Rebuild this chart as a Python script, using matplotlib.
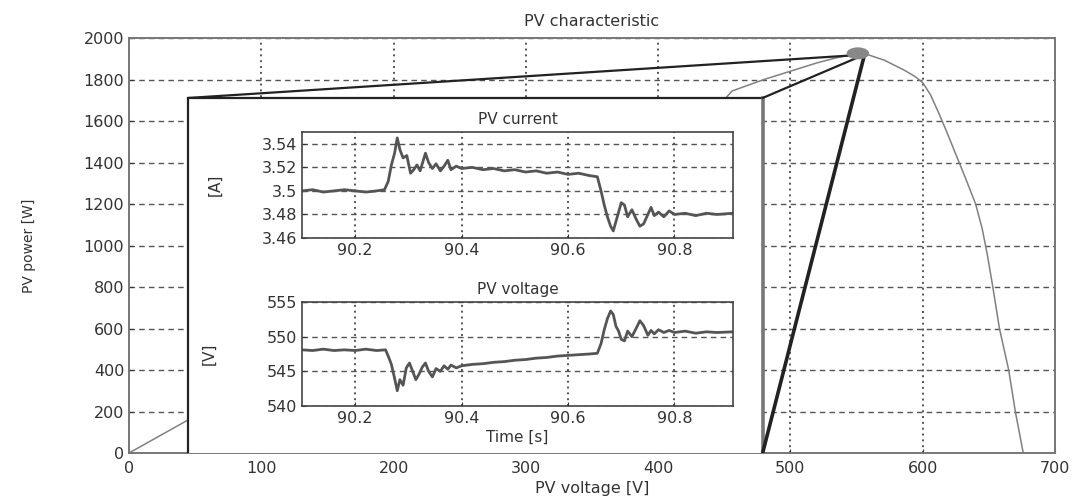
import numpy as np
import matplotlib
matplotlib.use("Agg")
import matplotlib.pyplot as plt
from matplotlib.patches import Rectangle, Ellipse

plt.rcParams['font.family'] = ['DejaVu Sans']

# PV characteristic (voltage [V], power [W])
pv_v = [0, 44.6, 150, 250, 350, 420, 456, 480, 500, 520, 535, 548, 556, 571, 586, 594,
        600, 606, 612, 618, 625, 632, 640, 645, 649, 653, 658, 665, 670, 676]
pv_p = [0, 159, 540, 895, 1245, 1495, 1745, 1800, 1840, 1880, 1905, 1922, 1925, 1893, 1845, 1815,
        1785, 1725, 1640, 1550, 1440, 1330, 1200, 1080, 950, 800, 600, 400, 200, 0]

# operating point marker and apex of the zoom lines
mpp_v, mpp_p = 551, 1926
apex_v, apex_p = 556, 1920

# zoom box (V, W)
box_v0, box_v1 = 44.6, 479
box_ptop = 1711

# PV current transient
t_i = [90.10, 90.12, 90.14, 90.16, 90.18, 90.20, 90.22, 90.24, 90.255, 90.262, 90.268,
       90.274, 90.279, 90.284, 90.29, 90.297, 90.304, 90.31, 90.316, 90.322, 90.328, 90.332,
       90.338, 90.345, 90.352, 90.36, 90.367, 90.374, 90.38, 90.39, 90.40, 90.42, 90.44,
       90.46, 90.48, 90.50, 90.52, 90.54, 90.56, 90.58, 90.60, 90.62, 90.64, 90.655, 90.662,
       90.668, 90.674, 90.68, 90.685, 90.69, 90.695, 90.70, 90.706, 90.712, 90.72, 90.728,
       90.735, 90.742, 90.75, 90.756, 90.762, 90.77, 90.78, 90.79, 90.80, 90.82, 90.84,
       90.86, 90.88, 90.91]
i_pv = [3.500, 3.501, 3.499, 3.500, 3.501, 3.500, 3.499, 3.500, 3.501, 3.508, 3.522,
        3.532, 3.545, 3.535, 3.528, 3.530, 3.515, 3.518, 3.522, 3.517, 3.526, 3.532,
        3.524, 3.519, 3.523, 3.517, 3.521, 3.526, 3.518, 3.521, 3.519, 3.520, 3.518,
        3.519, 3.517, 3.518, 3.516, 3.517, 3.515, 3.516, 3.514, 3.515, 3.513, 3.512, 3.500,
        3.488, 3.478, 3.470, 3.466, 3.474, 3.482, 3.490, 3.488, 3.478, 3.484, 3.476,
        3.470, 3.472, 3.480, 3.486, 3.479, 3.482, 3.478, 3.483, 3.480, 3.481, 3.479,
        3.481, 3.480, 3.481]

# PV voltage transient
t_u = [90.10, 90.12, 90.14, 90.16, 90.18, 90.20, 90.22, 90.24, 90.257, 90.262, 90.268,
       90.274, 90.279, 90.284, 90.29, 90.296, 90.302, 90.308, 90.314, 90.32, 90.326, 90.332,
       90.338, 90.345, 90.352, 90.36, 90.367, 90.374, 90.38, 90.39, 90.40, 90.42, 90.44,
       90.46, 90.48, 90.50, 90.52, 90.54, 90.56, 90.58, 90.60, 90.62, 90.64, 90.655, 90.662,
       90.668, 90.674, 90.68, 90.685, 90.69, 90.695, 90.70, 90.706, 90.712, 90.72, 90.728,
       90.735, 90.742, 90.75, 90.756, 90.762, 90.77, 90.78, 90.79, 90.80, 90.82, 90.84,
       90.86, 90.88, 90.91]
u_pv = [548.1, 548.0, 548.2, 548.0, 548.1, 548.0, 548.2, 548.0, 548.1, 547.2, 546.0,
        544.0, 542.2, 543.8, 543.0, 545.5, 546.2, 545.0, 543.8, 544.6, 545.6, 546.2,
        545.0, 544.2, 545.4, 545.0, 545.8, 545.3, 545.9, 545.5, 545.8, 546.0, 546.1,
        546.3, 546.4, 546.6, 546.7, 546.9, 547.0, 547.2, 547.3, 547.4, 547.5, 547.6, 549.0,
        551.0, 552.6, 553.7, 553.2, 551.5, 550.8, 549.6, 549.4, 550.8, 550.0, 551.2,
        552.3, 551.6, 550.2, 550.9, 550.4, 551.0, 550.6, 550.9, 550.6, 550.8, 550.5,
        550.7, 550.6, 550.7]

text_col = '#333333'
grid_col = '#555555'

fig = plt.figure(figsize=(10.78, 5.0), dpi=100)

ax = fig.add_axes([129 / 1078, 1 - 453 / 500, 926 / 1078, 415 / 500])
ax.set_xlim(0, 700)
ax.set_ylim(0, 2000)
ax.set_xticks(np.arange(0, 701, 100))
ax.set_yticks(np.arange(0, 2001, 200))
ax.tick_params(direction='in', length=3, labelsize=11.5, colors=text_col)
ax.tick_params(axis='x', pad=6)
for s in ax.spines.values():
    s.set_color('#777777')
    s.set_linewidth(1.4)
ax.yaxis.grid(True, linestyle=(0, (4, 3)), color=grid_col, linewidth=1.0, zorder=0)
ax.xaxis.grid(True, linestyle=(0, (1, 2)), color=grid_col, linewidth=1.4, zorder=0)
ax.set_axisbelow(True)
ax.set_title('PV characteristic', fontsize=11.5, color=text_col, pad=9)
ax.set_xlabel('PV voltage [V]', fontsize=11.5, color=text_col, labelpad=3)
ax.set_ylabel('PV power [W]', fontsize=10, color=text_col, labelpad=34)

ax.plot(pv_v, pv_p, color='#808080', linewidth=1.1, zorder=2)

# zoom box
ax.add_patch(Rectangle((box_v0, 0), box_v1 - box_v0, box_ptop, facecolor='white',
                       edgecolor='none', zorder=3))
ax.plot([box_v0, box_v0, box_v1], [0, box_ptop, box_ptop], color='#222222', linewidth=1.6,
        zorder=4)
ax.plot([box_v1, box_v1], [0, box_ptop], color='#777777', linewidth=2.6, zorder=4)

ax.plot([apex_v, box_v0], [apex_p, box_ptop], color='#222222', linewidth=1.6, zorder=5)
ax.plot([apex_v, box_v1], [apex_p, box_ptop], color='#222222', linewidth=1.6, zorder=5)
ax.plot([apex_v, box_v1], [apex_p, 0], color='#222222', linewidth=2.6, zorder=5)
ax.add_patch(Ellipse((mpp_v, mpp_p), 17, 58, facecolor='#888888', edgecolor='none', zorder=6))


def style_inset(a):
    a.set_xlim(90.1, 90.91)
    a.set_xticks([90.2, 90.4, 90.6, 90.8])
    a.tick_params(direction='in', length=3, labelsize=11.5, colors=text_col)
    for s in a.spines.values():
        s.set_color('#444444')
        s.set_linewidth(1.2)
    a.yaxis.grid(True, linestyle=(0, (4, 3)), color=grid_col, linewidth=1.0)
    a.xaxis.grid(True, linestyle=(0, (1, 2)), color=grid_col, linewidth=1.4)
    a.set_axisbelow(True)


ax1 = fig.add_axes([302 / 1078, 1 - 238 / 500, 431 / 1078, 106 / 500])
style_inset(ax1)
ax1.plot(t_i, i_pv, color='#555555', linewidth=2.0)
ax1.set_ylim(3.46, 3.55)
ax1.set_yticks([3.46, 3.48, 3.5, 3.52, 3.54])
ax1.set_yticklabels(['3.46', '3.48', '3.5', '3.52', '3.54'])
ax1.set_title('PV current', fontsize=11, color=text_col, pad=6)
ax1.set_ylabel('[A]', fontsize=11, color=text_col, labelpad=28)

ax2 = fig.add_axes([302 / 1078, 1 - 406 / 500, 431 / 1078, 104 / 500])
style_inset(ax2)
ax2.plot(t_u, u_pv, color='#555555', linewidth=2.0)
ax2.set_ylim(540, 555)
ax2.set_yticks([540, 545, 550, 555])
ax2.set_title('PV voltage', fontsize=11, color=text_col, pad=6)
ax2.set_ylabel('[V]', fontsize=11, color=text_col, labelpad=36)
ax2.set_xlabel('Time [s]', fontsize=11, color=text_col, labelpad=3)

fig.savefig('out.png', dpi=100)
